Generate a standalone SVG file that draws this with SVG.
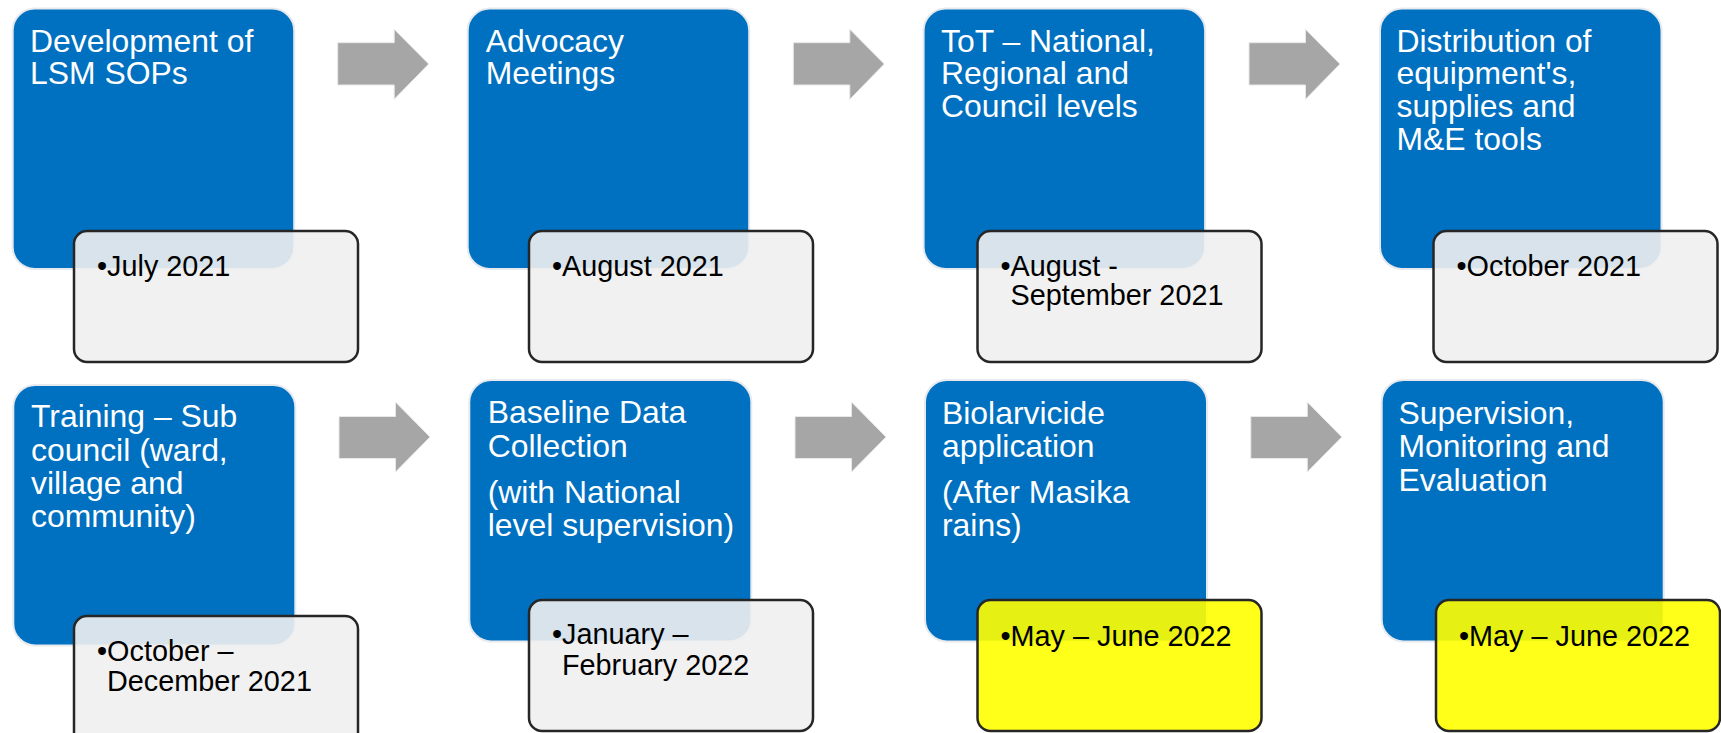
<svg xmlns="http://www.w3.org/2000/svg" width="1721" height="733" viewBox="0 0 1721 733">
<style>
.blue{fill:#0070C0;stroke:#e6e9ee;stroke-width:2}
.date{fill:#f0f0f0;fill-opacity:0.9;stroke:#262626;stroke-width:2.5}
.hl{fill:#ffff00;fill-opacity:0.9;stroke:#262626;stroke-width:2.5}
.arrow{fill:#a6a6a6;stroke:#e8e8e8;stroke-width:1}
.t{font-family:"Liberation Sans",Arial,sans-serif;font-size:31.9px;fill:#ffffff}
.d{font-family:"Liberation Sans",Arial,sans-serif;font-size:28.8px;fill:#000000}
</style>
<rect width="1721" height="733" fill="#ffffff"/>
<g id="connectors">
<path class="arrow" d="M337.7,42.7 H394.2 V29.3 L428.7,64 L394.2,99.3 V85 H337.7 Z"/>
<path class="arrow" d="M793.3,42.7 H849.8 V29.3 L884.3,64 L849.8,99.3 V85 H793.3 Z"/>
<path class="arrow" d="M1249,42.7 H1305.5 V29.3 L1340,64 L1305.5,99.3 V85 H1249 Z"/>
<path class="arrow" d="M339,416.5 H395.5 V402 L430,437 L395.5,472 V458.5 H339 Z"/>
<path class="arrow" d="M795,416.5 H851.5 V402 L886,437 L851.5,472 V458.5 H795 Z"/>
<path class="arrow" d="M1250.8,416.5 H1307.3 V402 L1341.8,437 L1307.3,472 V458.5 H1250.8 Z"/>
</g>
<g id="n1">
<rect class="blue" x="12.7" y="8.5" width="281.5" height="260.5" rx="22"/>
<text class="t" x="30" y="51.7">Development of</text>
<text class="t" x="30" y="84.3">LSM SOPs</text>
<rect class="date" x="74" y="231" width="284" height="131" rx="13"/>
<text class="d" x="97" y="276">•July 2021</text>
</g>
<g id="n2">
<rect class="blue" x="467.7" y="8.5" width="281.5" height="260.5" rx="22"/>
<text class="t" x="485.7" y="51.7">Advocacy</text>
<text class="t" x="485.7" y="84.3">Meetings</text>
<rect class="date" x="529" y="231" width="284" height="131" rx="13"/>
<text class="d" x="552" y="276">•August 2021</text>
</g>
<g id="n3">
<rect class="blue" x="923.6" y="8.5" width="281.5" height="260.5" rx="22"/>
<text class="t" x="941" y="51.7">ToT – National,</text>
<text class="t" x="941" y="84.3">Regional and</text>
<text class="t" x="941" y="116.7">Council levels</text>
<rect class="date" x="977.5" y="231" width="284" height="131" rx="13"/>
<text class="d" x="1000.5" y="276">•August -</text>
<text class="d" x="1010.5" y="305">September 2021</text>
</g>
<g id="n4">
<rect class="blue" x="1380" y="8.5" width="281.5" height="260.5" rx="22"/>
<text class="t" x="1396.5" y="51.7">Distribution of</text>
<text class="t" x="1396.5" y="84.3">equipment's,</text>
<text class="t" x="1396.5" y="116.7">supplies and</text>
<text class="t" x="1396.5" y="150">M&amp;E tools</text>
<rect class="date" x="1433.5" y="231" width="284" height="131" rx="13"/>
<text class="d" x="1456.5" y="276">•October 2021</text>
</g>
<g id="n5">
<rect class="blue" x="13.3" y="385" width="282" height="260.5" rx="22"/>
<text class="t" x="31" y="427.3">Training – Sub</text>
<text class="t" x="31" y="460.7">council (ward,</text>
<text class="t" x="31" y="494">village and</text>
<text class="t" x="31" y="527">community)</text>
<rect class="date" x="74" y="616" width="284" height="131" rx="13"/>
<text class="d" x="97" y="660.5">•October –</text>
<text class="d" x="107" y="690.7">December 2021</text>
</g>
<g id="n6">
<rect class="blue" x="469.3" y="380" width="282" height="261.5" rx="22"/>
<text class="t" x="487.7" y="423.3">Baseline Data</text>
<text class="t" x="487.7" y="457">Collection</text>
<text class="t" x="487.7" y="503.3">(with National</text>
<text class="t" x="487.7" y="536">level supervision)</text>
<rect class="date" x="529" y="600" width="284" height="131" rx="13"/>
<text class="d" x="552" y="644">•January –</text>
<text class="d" x="562" y="675">February 2022</text>
</g>
<g id="n7">
<rect class="blue" x="925" y="380" width="282" height="261.5" rx="22"/>
<text class="t" x="942" y="424">Biolarvicide</text>
<text class="t" x="942" y="457.3">application</text>
<text class="t" x="942" y="503.3">(After Masika</text>
<text class="t" x="942" y="536">rains)</text>
<rect class="hl" x="977.5" y="600" width="284" height="131" rx="13"/>
<text class="d" x="1000.5" y="646">•May – June 2022</text>
</g>
<g id="n8">
<rect class="blue" x="1381.7" y="380" width="282" height="261.5" rx="22"/>
<text class="t" x="1398.5" y="424">Supervision,</text>
<text class="t" x="1398.5" y="457.3">Monitoring and</text>
<text class="t" x="1398.5" y="490.7">Evaluation</text>
<rect class="hl" x="1436" y="600" width="284" height="131" rx="13"/>
<text class="d" x="1459" y="646">•May – June 2022</text>
</g>
</svg>
